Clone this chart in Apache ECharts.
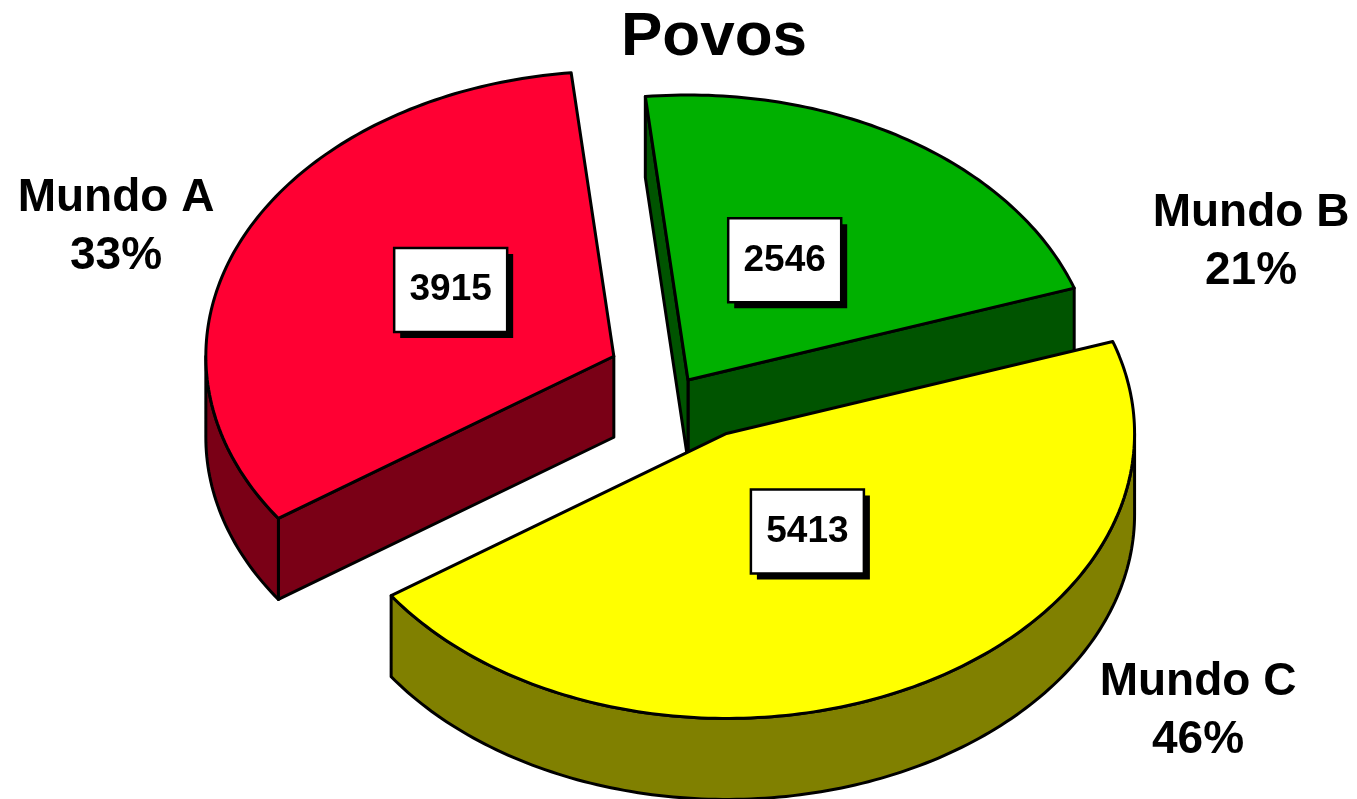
<!DOCTYPE html>
<html>
<head>
<meta charset="utf-8">
<title>Povos</title>
<script src="https://cdn.jsdelivr.net/npm/echarts@6/dist/echarts.min.js"></script>
<style>
  html, body { margin: 0; padding: 0; background: #fff; }
  #main { width: 1357px; height: 799px; }
</style>
</head>
<body>
<div id="main"></div>
<script>
const chartTitle = 'Povos';
const categories = ['Mundo A', 'Mundo B', 'Mundo C'];
const values = [3915, 2546, 5413];

// look of the 3d pie (styles, not data)
const topColors = ['#ff0033', '#00b000', '#ffff00'];
const sideColors = ['#7a0016', '#005400', '#808000'];
const explode = [0.2, 0, 0.21];
const labelPos = [[116, 227], [1251, 242], [1198, 711]];

const FONT = '"Liberation Sans", Arial, sans-serif';
const START = 214.7; // edge of first slice, degrees ccw from 3 o'clock, slices go clockwise
const CX = 688, CY = 380, RX = 408, RY = 285, DEPTH = 81;
const BOX_W = 113, BOX_H = 84;

const rad = a => a * Math.PI / 180;
const total = values.reduce((a, b) => a + b, 0);

let acc = START;
const slices = values.map((v, i) => {
  const span = v / total * 360;
  let hi = acc, lo = acc - span;
  acc = lo;
  while (lo < 0) { lo += 360; hi += 360; }
  const mid = (lo + hi) / 2;
  return {
    i, lo, hi, mid,
    cx: CX + explode[i] * RX * Math.cos(rad(mid)),
    cy: CY - explode[i] * RY * Math.sin(rad(mid)),
    pct: Math.round(v / total * 100)
  };
});

function pt(s, a, dz) {
  return [s.cx + RX * Math.cos(rad(a)), s.cy - RY * Math.sin(rad(a)) + (dz || 0)];
}

function arc(s, a0, a1, dz) {
  const n = Math.max(2, Math.ceil(Math.abs(a1 - a0)));
  const pts = [];
  for (let k = 0; k <= n; k++) pts.push(pt(s, a0 + (a1 - a0) * k / n, dz));
  return pts;
}

function renderItem(params, api) {
  const s = slices[api.value(0)];
  const line = { stroke: '#000', lineWidth: 3, lineJoin: 'round' };
  const side = Object.assign({ fill: sideColors[s.i] }, line);
  const children = [];

  // flat walls from the centre to the rim, only when they face us
  [[s.lo, Math.cos(rad(s.lo)) > 0], [s.hi, Math.cos(rad(s.hi)) < 0]].forEach(([a, show]) => {
    if (!show) return;
    const e = pt(s, a);
    children.push({
      type: 'polygon',
      shape: { points: [[s.cx, s.cy], e, [e[0], e[1] + DEPTH], [s.cx, s.cy + DEPTH]] },
      style: side
    });
  });

  // rounded outer wall, front half only
  [180, 540].forEach(base => {
    const a0 = Math.max(s.lo, base), a1 = Math.min(s.hi, base + 180);
    if (a1 <= a0) return;
    const pts = arc(s, a0, a1, 0).concat(arc(s, a1, a0, DEPTH));
    children.push({ type: 'polygon', shape: { points: pts }, style: side });
  });

  // top face
  children.push({
    type: 'polygon',
    shape: { points: [[s.cx, s.cy]].concat(arc(s, s.lo, s.hi, 0)) },
    style: Object.assign({ fill: topColors[s.i] }, line)
  });

  // value box
  const bx = s.cx + 0.44 * RX * Math.cos(rad(s.mid));
  const by = s.cy - 0.44 * RY * Math.sin(rad(s.mid)) - 14;
  children.push({
    type: 'rect', z2: 50,
    shape: { x: bx - BOX_W / 2 + 6, y: by - BOX_H / 2 + 6, width: BOX_W, height: BOX_H },
    style: { fill: '#000' }
  });
  children.push({
    type: 'rect', z2: 51,
    shape: { x: bx - BOX_W / 2, y: by - BOX_H / 2, width: BOX_W, height: BOX_H },
    style: { fill: '#fff', stroke: '#000', lineWidth: 2.5 }
  });
  children.push({
    type: 'text', z2: 52, x: bx, y: by,
    style: {
      text: String(values[s.i]), fill: '#000',
      font: 'bold 37px ' + FONT, align: 'center', verticalAlign: 'middle'
    }
  });

  // outside label
  children.push({
    type: 'text', z2: 60, x: labelPos[s.i][0], y: labelPos[s.i][1],
    style: {
      text: categories[s.i] + '\n' + s.pct + '%', fill: '#000',
      font: 'bold 46px ' + FONT, lineHeight: 58,
      align: 'center', verticalAlign: 'middle'
    }
  });

  return { type: 'group', children };
}

// paint back to front
const order = slices.slice().sort((a, b) => a.cy - b.cy).map(s => [s.i]);

const chart = echarts.init(document.getElementById('main'), null, { renderer: 'canvas' });
chart.setOption({
  animation: false,
  backgroundColor: '#fff',
  graphic: [{
    type: 'text', x: 714, y: 38,
    style: {
      text: chartTitle, fill: '#000', font: 'bold 62px ' + FONT,
      align: 'center', verticalAlign: 'middle'
    }
  }],
  series: [{
    type: 'custom',
    coordinateSystem: 'none',
    silent: true,
    renderItem: renderItem,
    data: order
  }]
});
</script>
</body>
</html>
